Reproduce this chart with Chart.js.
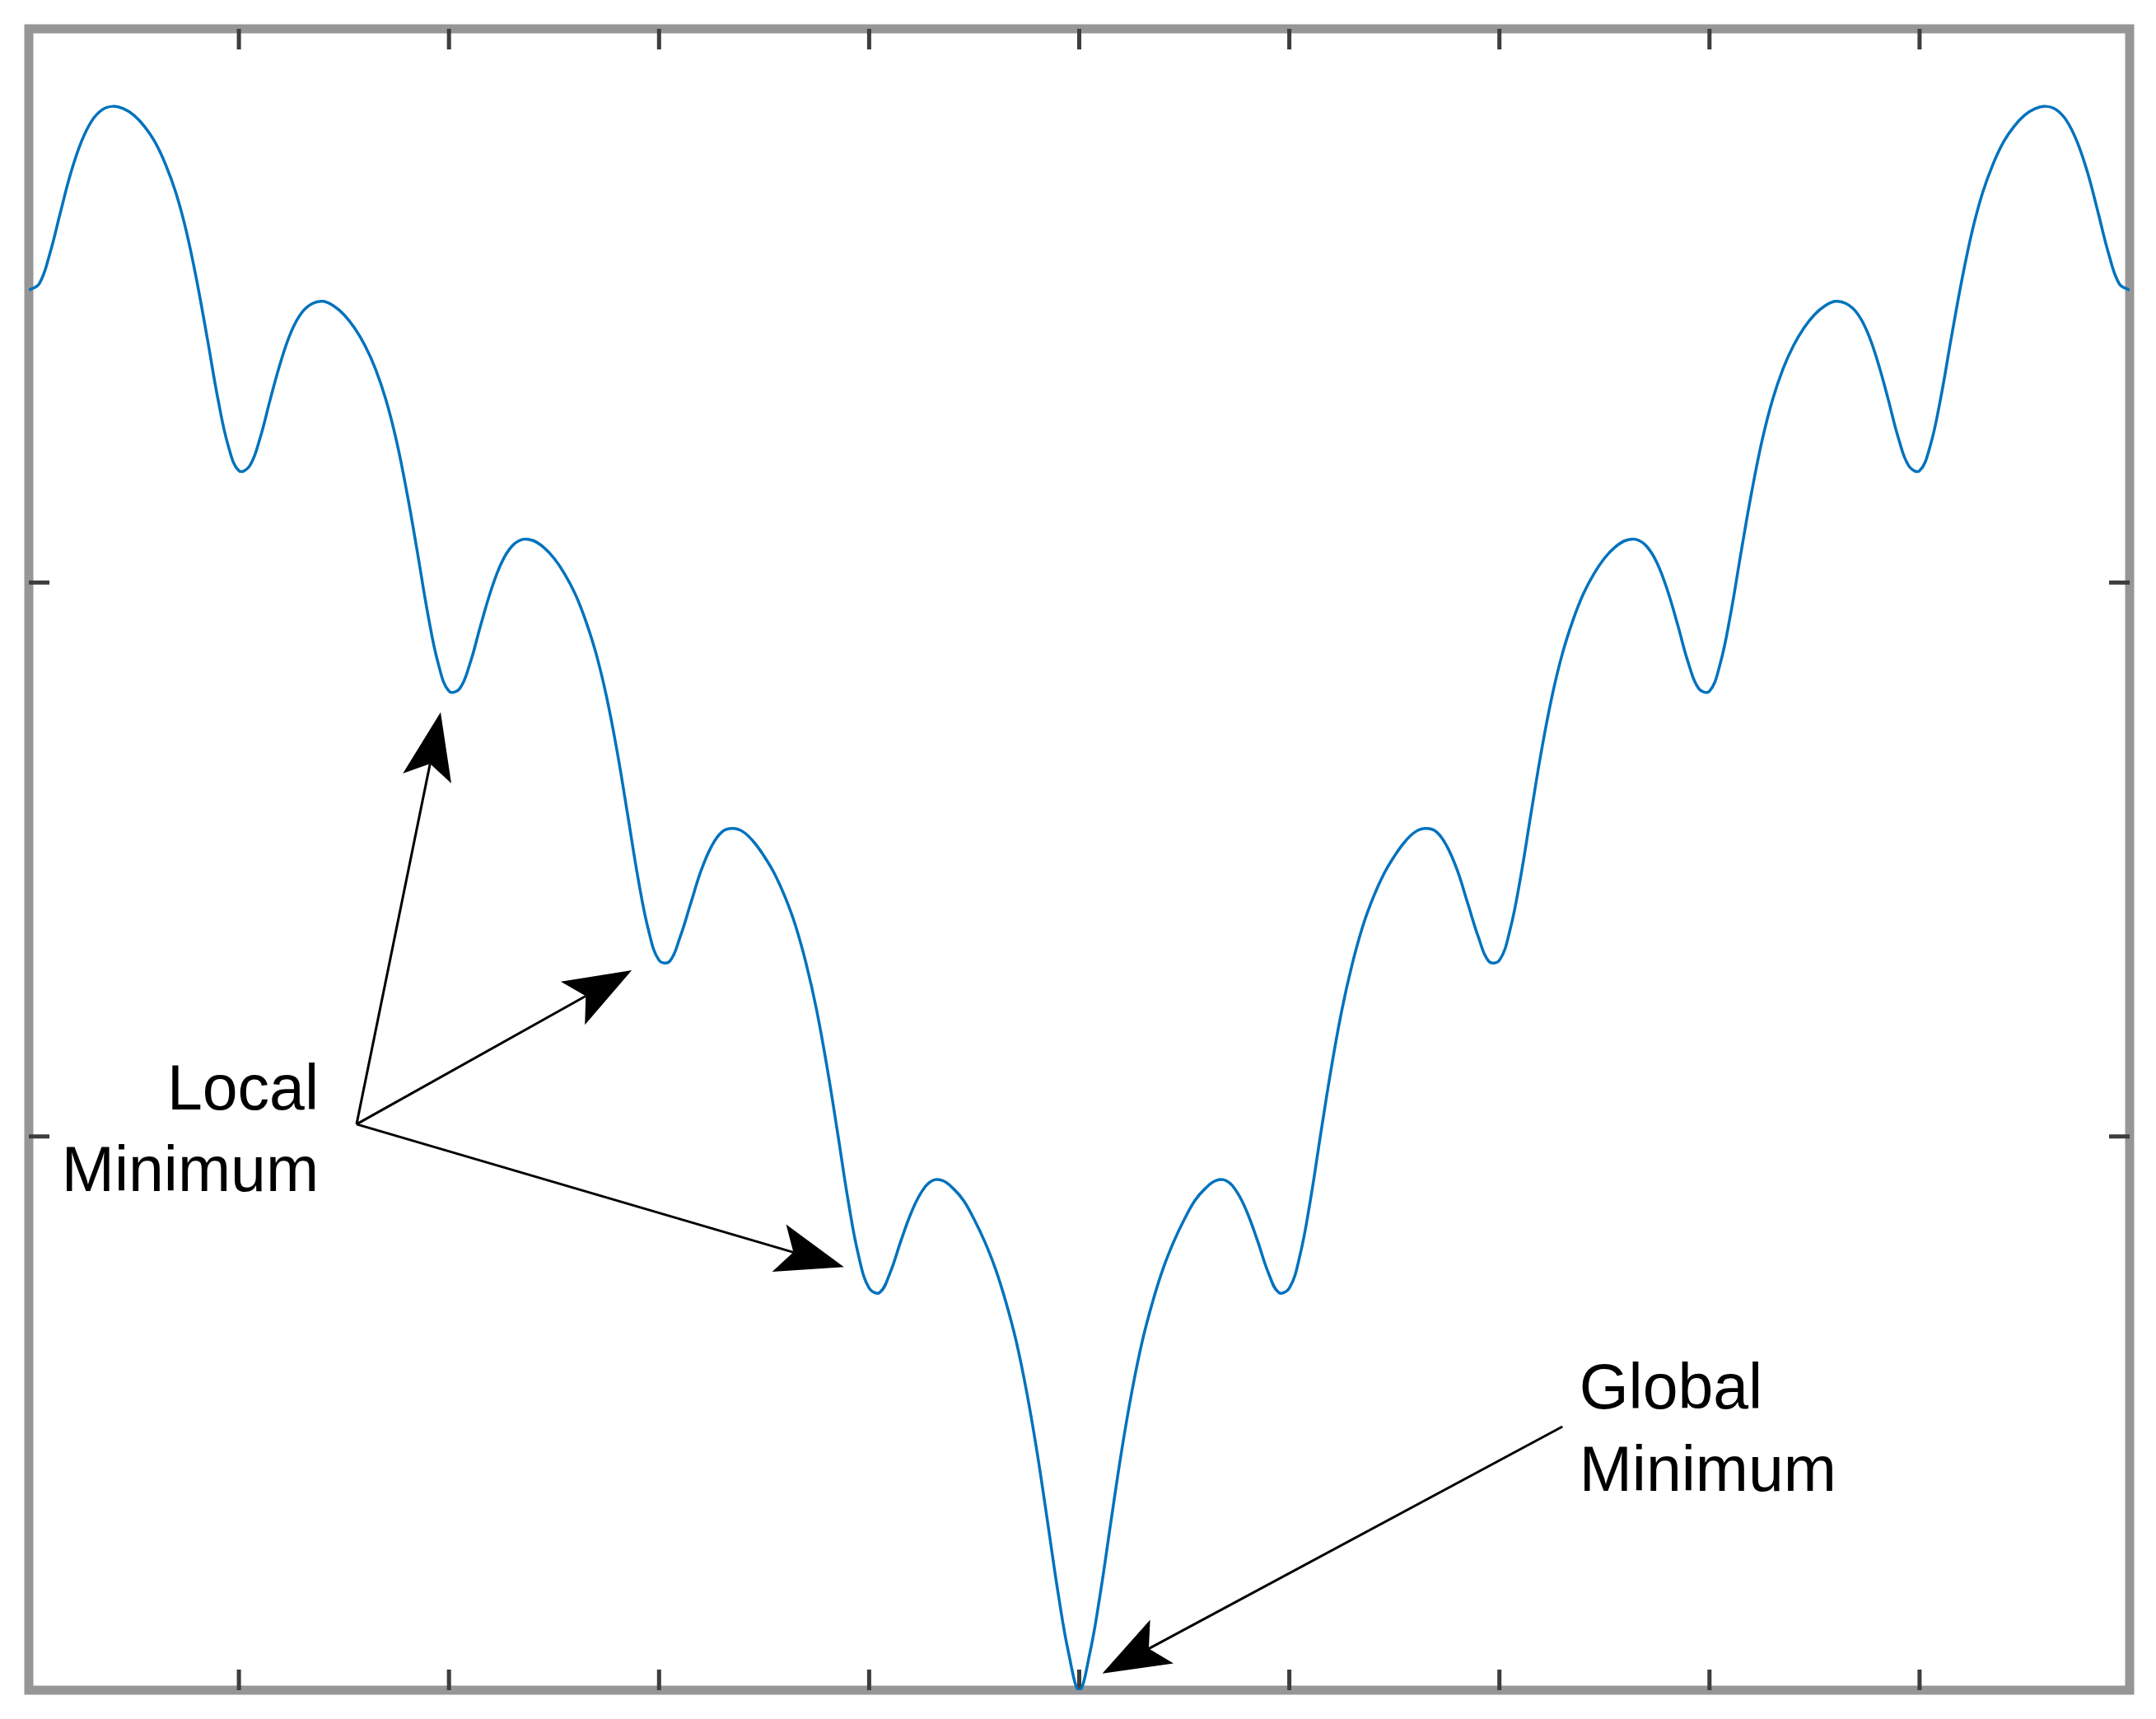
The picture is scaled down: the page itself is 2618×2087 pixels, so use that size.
<!DOCTYPE html>
<html lang="en">
<head>
    <meta charset="UTF-8">
    <title>Local and Global Minimum</title>
    <script src="https://cdn.jsdelivr.net/npm/chart.js"></script>
    <style>
        body { margin: 0; background: #ffffff; }
        canvas { display: block; }
    </style>
</head>
<body>
    <canvas id="curveChart" width="2618" height="2087"></canvas>
    <script>
        // curve
        const xValues = [
            -5.00, -4.95, -4.90, -4.85, -4.80, -4.75, -4.70, -4.65, -4.60, -4.55,
            -4.50, -4.45, -4.40, -4.35, -4.30, -4.25, -4.20, -4.15, -4.10, -4.05,
            -4.00, -3.95, -3.90, -3.85, -3.80, -3.75, -3.70, -3.65, -3.60, -3.55,
            -3.50, -3.45, -3.40, -3.35, -3.30, -3.25, -3.20, -3.15, -3.10, -3.05,
            -3.00, -2.95, -2.90, -2.85, -2.80, -2.75, -2.70, -2.65, -2.60, -2.55,
            -2.50, -2.45, -2.40, -2.35, -2.30, -2.25, -2.20, -2.15, -2.10, -2.05,
            -2.00, -1.95, -1.90, -1.85, -1.80, -1.75, -1.70, -1.65, -1.60, -1.55,
            -1.50, -1.45, -1.40, -1.35, -1.30, -1.25, -1.20, -1.15, -1.10, -1.05,
            -1.00, -0.95, -0.90, -0.85, -0.80, -0.75, -0.70, -0.65, -0.60, -0.55,
            -0.50, -0.45, -0.40, -0.35, -0.30, -0.25, -0.20, -0.15, -0.10, -0.05,
            0,
            0.05, 0.10, 0.15, 0.20, 0.25, 0.30, 0.35, 0.40, 0.45, 0.50,
            0.55, 0.60, 0.65, 0.70, 0.75, 0.80, 0.85, 0.90, 0.95, 1.00,
            1.05, 1.10, 1.15, 1.20, 1.25, 1.30, 1.35, 1.40, 1.45, 1.50,
            1.55, 1.60, 1.65, 1.70, 1.75, 1.80, 1.85, 1.90, 1.95, 2.00,
            2.05, 2.10, 2.15, 2.20, 2.25, 2.30, 2.35, 2.40, 2.45, 2.50,
            2.55, 2.60, 2.65, 2.70, 2.75, 2.80, 2.85, 2.90, 2.95, 3.00,
            3.05, 3.10, 3.15, 3.20, 3.25, 3.30, 3.35, 3.40, 3.45, 3.50,
            3.55, 3.60, 3.65, 3.70, 3.75, 3.80, 3.85, 3.90, 3.95, 4.00,
            4.05, 4.10, 4.15, 4.20, 4.25, 4.30, 4.35, 4.40, 4.45, 4.50,
            4.55, 4.60, 4.65, 4.70, 4.75, 4.80, 4.85, 4.90, 4.95, 5.00
        ];
        const yValues = [
            12.64, 12.70, 12.97, 13.34, 13.70, 13.98, 14.17, 14.27, 14.30, 14.28,
            14.22, 14.12, 13.98, 13.78, 13.52, 13.17, 12.72, 12.20, 11.66, 11.23,
            11.01, 11.05, 11.30, 11.66, 12.00, 12.27, 12.44, 12.52, 12.54, 12.50,
            12.42, 12.30, 12.14, 11.93, 11.65, 11.28, 10.81, 10.27, 9.71, 9.26,
            9.02, 9.04, 9.27, 9.61, 9.93, 10.18, 10.33, 10.39, 10.38, 10.32,
            10.22, 10.08, 9.90, 9.66, 9.36, 8.97, 8.48, 7.91, 7.33, 6.86,
            6.59, 6.58, 6.80, 7.10, 7.40, 7.62, 7.75, 7.78, 7.75, 7.66,
            7.53, 7.37, 7.16, 6.90, 6.56, 6.14, 5.62, 5.03, 4.42, 3.92,
            3.63, 3.59, 3.77, 4.05, 4.31, 4.50, 4.60, 4.60, 4.53, 4.42,
            4.25, 4.05, 3.81, 3.51, 3.15, 2.69, 2.14, 1.51, 0.87, 0.33,
            0,
            0.33, 0.87, 1.51, 2.14, 2.69, 3.15, 3.51, 3.81, 4.05, 4.25,
            4.42, 4.53, 4.60, 4.60, 4.50, 4.31, 4.05, 3.77, 3.59, 3.63,
            3.92, 4.42, 5.03, 5.62, 6.14, 6.56, 6.90, 7.16, 7.37, 7.53,
            7.66, 7.75, 7.78, 7.75, 7.62, 7.40, 7.10, 6.80, 6.58, 6.59,
            6.86, 7.33, 7.91, 8.48, 8.97, 9.36, 9.66, 9.90, 10.08, 10.22,
            10.32, 10.38, 10.39, 10.33, 10.18, 9.93, 9.61, 9.27, 9.04, 9.02,
            9.26, 9.71, 10.27, 10.81, 11.28, 11.65, 11.93, 12.14, 12.30, 12.42,
            12.50, 12.54, 12.52, 12.44, 12.27, 12.00, 11.66, 11.30, 11.05, 11.01,
            11.23, 11.66, 12.20, 12.72, 13.17, 13.52, 13.78, 13.98, 14.12, 14.22,
            14.28, 14.30, 14.27, 14.17, 13.98, 13.70, 13.34, 12.97, 12.70, 12.64
        ];
        const xTicks = [-4, -3, -2, -1, 0, 1, 2, 3, 4];
        const yTicks = [5, 10];

        // annotations, in data units
        const localLabel = ['Local', 'Minimum'];
        const localLabelX = -3.62;
        const localLabelY = [5.24, 4.51];
        const localFrom = [-3.44, 5.11];
        const localTargets = [[-3.04, 8.83], [-2.13, 6.50], [-1.12, 3.82]];

        const globalLabel = ['Global', 'Minimum'];
        const globalLabelX = 2.38;
        const globalLabelY = [2.54, 1.80];
        const globalFrom = [2.30, 2.38];
        const globalTarget = [0.11, 0.15];

        function drawArrow(ctx, x0, y0, x1, y1) {
            const len = Math.hypot(x1 - x0, y1 - y0);
            const ux = (x1 - x0) / len, uy = (y1 - y0) / len;
            const headLen = 82, halfW = 30, notch = 64;
            ctx.beginPath();
            ctx.moveTo(x0, y0);
            ctx.lineTo(x1 - ux * notch, y1 - uy * notch);
            ctx.stroke();
            ctx.beginPath();
            ctx.moveTo(x1, y1);
            ctx.lineTo(x1 - ux * headLen - uy * halfW, y1 - uy * headLen + ux * halfW);
            ctx.lineTo(x1 - ux * notch, y1 - uy * notch);
            ctx.lineTo(x1 - ux * headLen + uy * halfW, y1 - uy * headLen - ux * halfW);
            ctx.closePath();
            ctx.fill();
        }

        const framePlugin = {
            id: 'frame',
            beforeDatasetsDraw(chart) {
                const { ctx, chartArea: a, scales: { x, y } } = chart;
                ctx.save();
                ctx.strokeStyle = '#969696';
                ctx.lineWidth = 11;
                ctx.strokeRect(a.left, a.top, a.right - a.left, a.bottom - a.top);

                // inward tick marks on all four sides
                ctx.strokeStyle = '#3d3d3d';
                ctx.lineWidth = 5;
                ctx.beginPath();
                xTicks.forEach(v => {
                    const px = x.getPixelForValue(v);
                    ctx.moveTo(px, a.bottom);
                    ctx.lineTo(px, a.bottom - 25);
                    ctx.moveTo(px, a.top);
                    ctx.lineTo(px, a.top + 25);
                });
                yTicks.forEach(v => {
                    const py = y.getPixelForValue(v);
                    ctx.moveTo(a.left, py);
                    ctx.lineTo(a.left + 25, py);
                    ctx.moveTo(a.right, py);
                    ctx.lineTo(a.right - 25, py);
                });
                ctx.stroke();
                ctx.restore();
            },
            afterDatasetsDraw(chart) {
                const { ctx, scales: { x, y } } = chart;
                ctx.save();
                ctx.fillStyle = '#000000';
                ctx.strokeStyle = '#000000';
                ctx.lineWidth = 3;

                const fx = x.getPixelForValue(localFrom[0]);
                const fy = y.getPixelForValue(localFrom[1]);
                localTargets.forEach(t => {
                    drawArrow(ctx, fx, fy, x.getPixelForValue(t[0]), y.getPixelForValue(t[1]));
                });
                drawArrow(ctx,
                    x.getPixelForValue(globalFrom[0]), y.getPixelForValue(globalFrom[1]),
                    x.getPixelForValue(globalTarget[0]), y.getPixelForValue(globalTarget[1]));

                ctx.font = '77px "Liberation Sans", Arial, sans-serif';
                ctx.textBaseline = 'alphabetic';
                ctx.textAlign = 'right';
                localLabel.forEach((line, i) => {
                    ctx.fillText(line, x.getPixelForValue(localLabelX), y.getPixelForValue(localLabelY[i]));
                });
                ctx.textAlign = 'left';
                globalLabel.forEach((line, i) => {
                    ctx.fillText(line, x.getPixelForValue(globalLabelX), y.getPixelForValue(globalLabelY[i]));
                });
                ctx.restore();
            }
        };

        const points = xValues.map((v, i) => ({ x: v, y: yValues[i] }));

        new Chart(document.getElementById('curveChart').getContext('2d'), {
            type: 'line',
            data: {
                datasets: [{
                    data: points,
                    borderColor: '#0072BD',
                    borderWidth: 3.5,
                    pointRadius: 0,
                    tension: 0.4,
                    fill: false
                }]
            },
            options: {
                responsive: false,
                animation: false,
                devicePixelRatio: 1,
                layout: { padding: { left: 35, top: 35, right: 32, bottom: 35 } },
                plugins: {
                    legend: { display: false },
                    tooltip: { enabled: false }
                },
                scales: {
                    x: { type: 'linear', min: -5, max: 5, display: false },
                    y: { type: 'linear', min: 0, max: 15, display: false }
                }
            },
            plugins: [framePlugin]
        });
    </script>
</body>
</html>
